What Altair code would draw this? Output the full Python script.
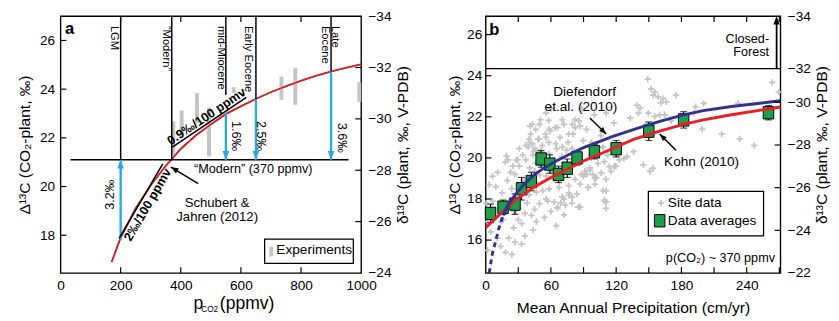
import altair as alt
import pandas as pd

FONT = "Liberation Sans, Arial, sans-serif"
W_A, W_B, H = 309, 303, 264
BLUE_ARROW = "#29a9e1"
RED_A = "#d71f26"
RED_B = "#ee1c24"
BLUE_B = "#2e3192"
GREEN = "#1f9e4a"
GREY = "#c4c4c4"

# ---------------- panel a data ----------------
curve_a_ppm = [170, 200, 250, 300, 350, 370, 400, 450, 500, 550, 600, 650, 700, 750, 800, 850, 900, 950, 1000]
curve_a_d13 = [16.9, 17.9, 19.1, 20.05, 20.85, 21.12, 21.55, 22.1, 22.55, 22.98, 23.3, 23.6, 23.88, 24.12, 24.35, 24.55, 24.73, 24.88, 25.02]

exp_ppm = [375, 403, 454, 494, 576, 735, 781, 994]
exp_lo = [21.28, 22.04, 22.6, 21.24, 23.84, 23.56, 23.36, 23.48]
exp_hi = [22.68, 23.12, 23.84, 23.24, 24.08, 24.52, 24.88, 24.28]

epoch_ppm = [200, 370, 550, 650, 900]
epoch_bottom = [21.1, 21.1, 23.76, 23.6, 24.73]
epoch_top = 27.0

label_text = ["LGM", "\u201cModern\u201d", "mid-Miocene", "Early Eocene", "Late", "Eocene"]
label_ppm = [178, 349, 533, 623, 913, 878]
label_d13 = [26.6, 26.6, 26.6, 26.6, 26.6, 26.6]

modern_d13 = 21.1
modern_from, modern_to = 33, 958

arrow_ppm = [200, 550, 650, 900]
arrow_start = [17.8, 23.0, 23.6, 24.73]
arrow_tip_angle = [0, 180, 180, 180]
shift_text = ["3.2\u2030", "1.6\u2030", "2.5\u2030", "3.6\u2030"]
shift_ppm = [165, 584, 665, 935]
shift_d13 = [19.67, 22.07, 22.07, 22.0]
shift_angle = [270, 90, 90, 90]

tangent_x = [372, 195]
tangent_x2 = [618, 340]
tangent_y = [21.62, 17.87]
tangent_y2 = [23.66, 20.93]
slope_text = ["0.9\u2030/100 ppmv", "2\u2030/100 ppmv"]
slope_ppm = [497, 268]
slope_d13 = [22.68, 19.41]
slope_angle = [326, 300]
slope_baseline = ["alphabetic", "top"]
slope_dy = [-2, 2]

# ---------------- panel b data ----------------
site_map = [1.8, 13.7, 18.2, 24.2, 21.2, 25.7, 33.1, 43.6, 46.6, 42.1, 45, 60, 66, 86.9, 109.3, 110.8, 100.3, 95.8,
            92.8, 119.7, 76.4, 79.4, 71.9, 69, 57, 3.3, 9.3, 15.2, 6.3, 13.7, 4.8, 10.7, 7.8, 18, 6.3, 2, 0.5, 11,
            16, 20, 24, 27, 29, 31, 35, 37, 26, 22, 30, 38, 36, 40, 33, 28, 23, 19,
            40.6, 49.5, 58.5, 66, 71.9, 82.4, 86.9, 92.8, 76.4, 55.5, 48.1, 40.6, 39.1, 45.1, 51, 43.6, 64.5, 70.4,
            79.4, 89.8, 97.3, 101.8, 107.8, 112.2, 121.2, 127.2, 113.7, 109.3, 103.3, 95.8, 91.3, 89.8, 98.8, 106.3,
            110.7, 100.3, 94.3, 86.9, 82.4, 76.4, 67.5, 58.5, 52.5, 46.6, 55.5, 63, 70.4, 76.4, 83.9, 85.4, 73.4, 66,
            49.5, 107.8, 109.3, 110.7, 118.2, 115.2, 55.5, 49.5, 43.6, 45.1, 51, 40.6, 60, 63, 67.5,
            43, 50.4, 57.9, 46, 41.5, 40, 43, 37, 31, 34, 29.5, 20.6, 59.4, 63.9, 75.8, 80.3, 74.3, 68.4, 58, 52,
            47.5, 58, 65.4, 69.9, 85.8, 79.8, 55, 49, 44, 46, 42, 48, 53,
            149, 152, 155.5, 154, 158.5, 163, 166, 161, 175, 139, 142, 140.5, 149.5, 155.5, 160, 164.5, 148, 193,
            200.5, 191.5, 232, 199, 217, 233.5, 247, 263.5, 269.5, 145, 154, 151, 136, 170.5,
            106, 118, 133, 110.8, 100, 88.4, 82, 70.5, 60, 55.5, 101.8, 94.3, 85.4, 72, 130, 110.8, 79.4, 88, 97,
            123, 65, 54, 36, 27, 14, 33, 25]
site_d13 = [15.5, 15.7, 15.4, 15.3, 16.1, 16.6, 16.8, 16.5, 16.9, 17.2, 17.5, 17.4, 17.6, 17.6, 17.9, 18.4, 19.0, 19.4,
            19.2, 19.6, 18.3, 17.8, 18.0, 17.8, 17.9, 18.7, 18.6, 18.3, 17.9, 17.7, 16.4, 16.1, 17.2, 19.8, 19.1, 16.9, 17.8, 19.3,
            17.0, 18.9, 18.5, 19.2, 18.0, 19.6, 18.9, 19.9, 17.4, 17.9, 17.0, 17.8, 17.3, 18.2, 18.3, 19.9, 19.3, 20.1,
            21.55, 21.63, 21.39, 21.47, 21.63, 21.47, 21.55, 21.39, 21.16, 21.0, 20.92, 20.76, 20.53, 20.45, 20.37, 20.14, 20.69, 20.53,
            20.45, 20.84, 20.76, 20.29, 20.53, 20.14, 20.14, 19.98, 19.58, 19.82, 19.74, 19.51, 19.35, 19.11, 19.19, 19.27,
            18.96, 18.72, 18.57, 18.72, 18.96, 18.65, 18.57, 18.49, 18.41, 18.33, 18.01, 17.86, 18.1, 18.18, 18.25, 17.62, 17.7, 17.54,
            17.78, 18.41, 17.94, 17.54, 19.58, 19.35, 19.11, 19.19, 18.96, 19.35, 19.66, 19.51, 19.35, 18.96, 18.88,
            21.63, 21.86, 21.83, 21.39, 21.16, 20.92, 20.68, 20.6, 20.45, 20.14, 19.9, 19.9, 21.31, 21.47, 20.76, 21.16, 20.37, 21.0, 20.76, 20.6,
            20.37, 20.21, 20.45, 20.06, 21.8, 21.63, 21.16, 20.92, 20.3, 19.75, 19.0, 18.7, 19.85,
            23.84, 23.36, 23.2, 23.05, 22.97, 22.89, 22.73, 22.68, 23.05, 22.57, 22.42, 22.18, 22.18, 22.02, 22.1, 22.1, 21.63, 22.5,
            22.65, 22.18, 22.65, 21.4, 21.16, 20.93, 20.61, 23.68, 23.2, 19.66, 19.5, 19.35, 20.3, 21.8,
            21.08, 21.71, 21.94, 22.18, 22.1, 22.4, 21.86, 21.86, 22.4, 22.18, 19.04, 18.56, 17.62, 17.23, 20.06, 17.86, 18.09, 19.2, 20.0,
            19.9, 16.7, 17.1, 16.2, 15.9, 16.9, 15.8, 19.6]

avg_map = [4.5, 16, 27, 33, 42, 51, 59, 67, 75, 84, 100, 120, 150, 182, 260]
avg_d13 = [17.3, 17.6, 17.75, 18.5, 18.85, 19.95, 19.7, 19.2, 19.5, 20.0, 20.3, 20.45, 21.3, 21.85, 22.2]
avg_err = [0.45, 0.35, 0.5, 0.55, 0.45, 0.4, 0.45, 0.4, 0.45, 0.35, 0.35, 0.4, 0.45, 0.4, 0.35]

kohn_map = [0, 10, 20, 30, 45, 60, 75, 90, 110, 136, 160, 181, 200, 226, 250, 271]
kohn_d13 = [16.6, 17.1, 17.6, 18.05, 18.6, 19.05, 19.45, 19.85, 20.3, 20.9, 21.3, 21.62, 21.85, 22.1, 22.3, 22.48]

dief_dash_map = [3.3, 6, 9, 12, 16]
dief_dash_d13 = [14.4, 15.3, 15.9, 16.55, 17.2]
dief_map = [16, 20, 27, 35, 45, 55, 65, 78, 90, 105, 117, 140, 160, 181, 200, 226, 250, 271]
dief_d13 = [17.2, 17.65, 18.2, 18.7, 19.2, 19.55, 19.85, 20.2, 20.5, 20.8, 21.05, 21.45, 21.78, 22.08, 22.3, 22.5, 22.65, 22.78]

forest_line_d13 = 24.35
forest_map = 267.5

# ---------------- scales ----------------
xa = alt.Scale(domain=[0, 1000], nice=False, zero=False)
ya = alt.Scale(domain=[16.45, 27.0], nice=False, zero=False)
yra = alt.Scale(domain=[-24, -34], nice=False, zero=False)
xb = alt.Scale(domain=[0, 271], nice=False, zero=False)
yb = alt.Scale(domain=[14.4, 26.9], nice=False, zero=False)
yrb = alt.Scale(domain=[-22, -30, -32, -34], range=[H, H * 89 / 265, H * 54 / 265, 0], nice=False, zero=False)

ARROW_PATH = "M0,0L-0.38,1L0.38,1Z"
CROSS_PATH = "M-1,0L1,0M0,-1L0,1"
BOX_PATH = "M-0.85,-1L0.85,-1L0.85,1L-0.85,1Z"


def X(f, s):
    return alt.X(f, type="quantitative", scale=s)


def Y(f, s):
    return alt.Y(f, type="quantitative", scale=s)


def texts(rows, sx, sy, **mk):
    df = pd.DataFrame(rows, columns=["t", "x", "y"])
    return alt.Chart(df).mark_text(font=FONT, **mk).encode(x=X("x", sx), y=Y("y", sy), text="t:N")


def segs(x, x2, y, y2, sx, sy, **mk):
    df = pd.DataFrame({"x": x, "x2": x2, "y": y, "y2": y2})
    return alt.Chart(df).mark_rule(**mk).encode(x=X("x", sx), x2="x2:Q", y=Y("y", sy), y2="y2:Q")


def heads(x, y, ang, sx, sy, color, size):
    df = pd.DataFrame({"x": x, "y": y, "a": ang})
    return alt.Chart(df).mark_point(shape=ARROW_PATH, filled=True, color=color, opacity=1, size=size).encode(
        x=X("x", sx), y=Y("y", sy), angle=alt.Angle("a:Q", scale=None))


def inward_ticks(xvals, yvals, sx, sy):
    dx = pd.DataFrame({"v": xvals})
    dy = pd.DataFrame({"v": yvals})
    bot = alt.Chart(dx).mark_rule(color="black", strokeWidth=1.2).encode(
        x=X("v", sx), y=alt.value(H), y2=alt.value(H - 6))
    top = alt.Chart(dx).mark_rule(color="black", strokeWidth=1.2).encode(
        x=X("v", sx), y=alt.value(0), y2=alt.value(6))
    left = alt.Chart(dy).mark_rule(color="black", strokeWidth=1.2).encode(
        y=Y("v", sy), x=alt.value(0), x2=alt.value(6))
    return [bot, top, left]


def right_axis(vals, ticks, scale, w):
    df = pd.DataFrame({"v": ticks})
    return alt.Chart(df).mark_rule(color="black", strokeWidth=1.2).encode(
        y=alt.Y("v:Q", scale=scale, axis=alt.Axis(
            orient="right", values=vals, title="\u03b4\u00b9\u00b3C (plant, \u2030, V-PDB)",
            titleAngle=270, titleBaseline="top", titlePadding=4, labelPadding=7,
            ticks=False, tickSize=0, domain=False, grid=False, labelFlush=False)),
        x=alt.value(w - 6), x2=alt.value(w))


# ---------------- panel a ----------------
curve_a = alt.Chart(pd.DataFrame({"x": curve_a_ppm, "y": curve_a_d13})).mark_line(
    color=RED_A, strokeWidth=1.6).encode(
    x=alt.X("x:Q", scale=xa, axis=alt.Axis(values=[0, 200, 400, 600, 800, 1000], title=None, ticks=False, format="d",
                                           tickSize=0, domain=False, grid=False, labelPadding=6, labelFlush=False)),
    y=alt.Y("y:Q", scale=ya, axis=alt.Axis(values=[18, 20, 22, 24, 26],
                                           title="\u0394\u00b9\u00b3C (CO\u2082-plant, \u2030)",
                                           titlePadding=7, labelPadding=6, ticks=False, tickSize=0,
                                           domain=False, grid=False, labelFlush=False)))

exp_bars = segs(exp_ppm, exp_ppm, exp_lo, exp_hi, xa, ya, color=GREY, strokeWidth=4)
epoch_lines = segs(epoch_ppm, epoch_ppm, [epoch_top] * 5, epoch_bottom, xa, ya, color="black", strokeWidth=1.5)
modern_line = segs([modern_from], [modern_to], [modern_d13], [modern_d13], xa, ya, color="black", strokeWidth=1.5)
blue_shafts = segs(arrow_ppm, arrow_ppm, arrow_start, [modern_d13] * 4, xa, ya, color=BLUE_ARROW, strokeWidth=2.4)
blue_heads = heads(arrow_ppm, [modern_d13] * 4, arrow_tip_angle, xa, ya, BLUE_ARROW, 324)
tangents = segs(tangent_x, tangent_x2, tangent_y, tangent_y2, xa, ya, color="black", strokeWidth=1.6)

epoch_labels = texts(list(zip(label_text, label_ppm, label_d13)), xa, ya, angle=90, align="left",
                     baseline="middle", fontSize=11.5)
shift_layers = [texts([(t, x, y)], xa, ya, angle=a, align="center", baseline="middle", fontSize=13)
                for t, x, y, a in zip(shift_text, shift_ppm, shift_d13, shift_angle)]
slope_layers = [texts([(t, x, y)], xa, ya, angle=a, align="center", baseline=b, dy=d, fontSize=13,
                      fontWeight="bold")
                for t, x, y, a, b, d in zip(slope_text, slope_ppm, slope_d13, slope_angle, slope_baseline, slope_dy)]
modern_label = texts([("\u201cModern\u201d (370 ppmv)", 641, 20.73)], xa, ya, fontSize=13, baseline="middle")
schubert = texts([("Schubert &", 521, 19.33), ("Jahren (2012)", 521, 18.73)], xa, ya, fontSize=13.5,
                 baseline="middle")
schubert_arrow = segs([458], [367], [20.12], [20.8], xa, ya, color="black", strokeWidth=1.5)
schubert_head = heads([367], [20.8], [301], xa, ya, "black", 250)
panel_a_label = texts([("a", 30, 26.45)], xa, ya, fontSize=17, fontWeight="bold", baseline="middle")

legend_a_box = alt.Chart(pd.DataFrame({"x": [679], "x2": [974], "y": [16.84], "y2": [17.84]})).mark_rect(
    fill="white", stroke="black", strokeWidth=1.3).encode(x=X("x", xa), x2="x2:Q", y=Y("y", ya), y2="y2:Q")
legend_a_bar = segs([701], [701], [17.13], [17.53], xa, ya, color=GREY, strokeWidth=4)
legend_a_text = texts([("Experiments", 718, 17.4)], xa, ya, fontSize=14, align="left", baseline="middle")

xt_p = alt.Chart(pd.DataFrame({"t": ["p"], "x": [442]})).mark_text(
    font=FONT, fontSize=18, align="left", baseline="alphabetic").encode(x=X("x", xa), y=alt.value(H + 37), text="t:N")
xt_sub = alt.Chart(pd.DataFrame({"t": ["CO2"], "x": [468]})).mark_text(
    font=FONT, fontSize=8.5, align="left", baseline="alphabetic").encode(x=X("x", xa), y=alt.value(H + 40), text="t:N")
xt_rest = alt.Chart(pd.DataFrame({"t": ["(ppmv)"], "x": [530]})).mark_text(
    font=FONT, fontSize=18, align="left", baseline="alphabetic").encode(x=X("x", xa), y=alt.value(H + 37), text="t:N")

main_a = alt.layer(
    curve_a, exp_bars, alt.Chart(pd.DataFrame({"x": curve_a_ppm, "y": curve_a_d13})).mark_line(
        color=RED_A, strokeWidth=1.6).encode(x=X("x", xa), y=Y("y", ya)),
    epoch_lines, modern_line, blue_shafts, blue_heads, tangents, epoch_labels, *shift_layers, *slope_layers,
    modern_label, schubert, schubert_arrow, schubert_head, panel_a_label, legend_a_box, legend_a_bar,
    legend_a_text, xt_p, xt_sub, xt_rest,
    *inward_ticks([200, 400, 600, 800], [18, 20, 22, 24, 26], xa, ya))
panel_a = alt.layer(main_a, right_axis([-34, -32, -30, -28, -26, -24], [-32, -30, -28, -26], yra, W_A)).resolve_scale(
    y="independent").properties(width=W_A, height=H)

# ---------------- panel b ----------------
sites = alt.Chart(pd.DataFrame({"x": site_map, "y": site_d13})).mark_point(
    shape=CROSS_PATH, filled=False, color=GREY, strokeWidth=1.8, size=42, opacity=1).encode(
    x=alt.X("x:Q", scale=xb, axis=alt.Axis(values=[0, 60, 120, 180, 240], title="Mean Annual Precipitation (cm/yr)",
                                           ticks=False, tickSize=0, domain=False, grid=False, labelPadding=6,
                                           titlePadding=8, labelFlush=False)),
    y=alt.Y("y:Q", scale=yb, axis=alt.Axis(values=[16, 18, 20, 22, 24, 26],
                                           title="\u0394\u00b9\u00b3C (CO\u2082-plant, \u2030)",
                                           titlePadding=4, labelPadding=4, ticks=False, tickSize=0,
                                           domain=False, grid=False, labelFlush=False)))

forest_line = alt.Chart(pd.DataFrame({"y": [forest_line_d13]})).mark_rule(color="black", strokeWidth=1.3).encode(
    y=Y("y", yb), x=alt.value(0), x2=alt.value(W_B))
forest_arrow = segs([forest_map], [forest_map], [forest_line_d13], [26.6], xb, yb, color="black", strokeWidth=1.8)
forest_head = heads([forest_map], [26.9], [0], xb, yb, "black", 300)
forest_text = texts([("Closed-", 260.6, 25.8), ("Forest", 260.6, 25.15)], xb, yb, fontSize=13, align="right",
                    baseline="middle")

avg_df = pd.DataFrame({"x": avg_map, "y": avg_d13,
                       "lo": [v - e for v, e in zip(avg_d13, avg_err)],
                       "hi": [v + e for v, e in zip(avg_d13, avg_err)]})
err_rules = alt.Chart(avg_df).mark_rule(color="black", strokeWidth=1.2).encode(
    x=X("x", xb), y=Y("lo", yb), y2="hi:Q")
err_cap_lo = alt.Chart(avg_df).mark_tick(color="black", orient="horizontal", size=7, thickness=1.2).encode(
    x=X("x", xb), y=Y("lo", yb))
err_cap_hi = alt.Chart(avg_df).mark_tick(color="black", orient="horizontal", size=7, thickness=1.2).encode(
    x=X("x", xb), y=Y("hi", yb))
squares = alt.Chart(avg_df).mark_point(shape=BOX_PATH, filled=True, fill=GREEN, stroke="black", strokeWidth=1,
                                       size=160, opacity=1).encode(x=X("x", xb), y=Y("y", yb))

kohn = alt.Chart(pd.DataFrame({"x": kohn_map, "y": kohn_d13})).mark_line(color=RED_B, strokeWidth=3).encode(
    x=X("x", xb), y=Y("y", yb))
dief = alt.Chart(pd.DataFrame({"x": dief_map, "y": dief_d13})).mark_line(color=BLUE_B, strokeWidth=3).encode(
    x=X("x", xb), y=Y("y", yb))
dief_dash = alt.Chart(pd.DataFrame({"x": dief_dash_map, "y": dief_dash_d13})).mark_line(
    color=BLUE_B, strokeWidth=3, strokeDash=[5, 4]).encode(x=X("x", xb), y=Y("y", yb))

dief_text = texts([("Diefendorf", 91, 23.2), ("et.al. (2010)", 87.6, 22.45)], xb, yb, fontSize=14,
                  baseline="middle")
dief_arrow = segs([95.8], [110.8], [21.94], [21.16], xb, yb, color="black", strokeWidth=1.5)
dief_head = heads([110.8], [21.16], [135], xb, yb, "black", 220)
kohn_text = texts([("Kohn (2010)", 198.5, 19.82)], xb, yb, fontSize=14, baseline="middle")
kohn_arrow = segs([175], [160], [20.37], [21.16], xb, yb, color="black", strokeWidth=1.5)
kohn_head = heads([160], [21.16], [315], xb, yb, "black", 220)

legend_b_box = alt.Chart(pd.DataFrame({"x": [149.6], "x2": [255.5], "y": [16.2], "y2": [18.37]})).mark_rect(
    fill="white", stroke="black", strokeWidth=1.3).encode(x=X("x", xb), x2="x2:Q", y=Y("y", yb), y2="y2:Q")
legend_b_cross = alt.Chart(pd.DataFrame({"x": [161.2], "y": [17.8]})).mark_point(
    shape=CROSS_PATH, filled=False, color=GREY, strokeWidth=1.8, size=42, opacity=1).encode(
    x=X("x", xb), y=Y("y", yb))
legend_b_sq = alt.Chart(pd.DataFrame({"x": [160], "y": [16.94]})).mark_point(
    shape=BOX_PATH, filled=True, fill=GREEN, stroke="black", strokeWidth=1, size=160, opacity=1).encode(
    x=X("x", xb), y=Y("y", yb))
legend_b_text = texts([("Site data", 167.5, 17.8), ("Data averages", 167.5, 16.94)], xb, yb, fontSize=14,
                      align="left", baseline="middle")
pco2_text = texts([("p(CO\u2082) ~ 370 ppmv", 266, 15.1)], xb, yb, fontSize=13, align="right", baseline="middle")
panel_b_label = texts([("b", 8, 26.24)], xb, yb, fontSize=17, fontWeight="bold", baseline="middle")

main_b = alt.layer(
    sites, forest_line, forest_arrow, forest_head, forest_text, err_rules, err_cap_lo, err_cap_hi, squares,
    kohn, dief, dief_dash, dief_text, dief_arrow, dief_head, kohn_text, kohn_arrow, kohn_head,
    legend_b_box, legend_b_cross, legend_b_sq, legend_b_text, pco2_text, panel_b_label,
    *inward_ticks([30, 60, 90, 120, 150, 180, 210, 240, 270], [16, 18, 20, 22, 24, 26], xb, yb))
panel_b = alt.layer(main_b, right_axis([-34, -32, -30, -28, -26, -24, -22], [-30, -28, -26, -24], yrb, W_B)).resolve_scale(
    y="independent").properties(width=W_B, height=H)

chart = alt.hconcat(panel_a, panel_b, spacing=35, padding={"left": 8, "top": -4, "right": 0, "bottom": 0}).configure(
    font=FONT).configure_view(stroke="black", strokeWidth=1.4).configure_axis(
    labelFont=FONT, titleFont=FONT, labelFontSize=14, titleFontSize=16, titleFontWeight="normal",
    labelColor="black", titleColor="black")

chart.save("out.html", embed_options={"renderer": "svg", "actions": False})
